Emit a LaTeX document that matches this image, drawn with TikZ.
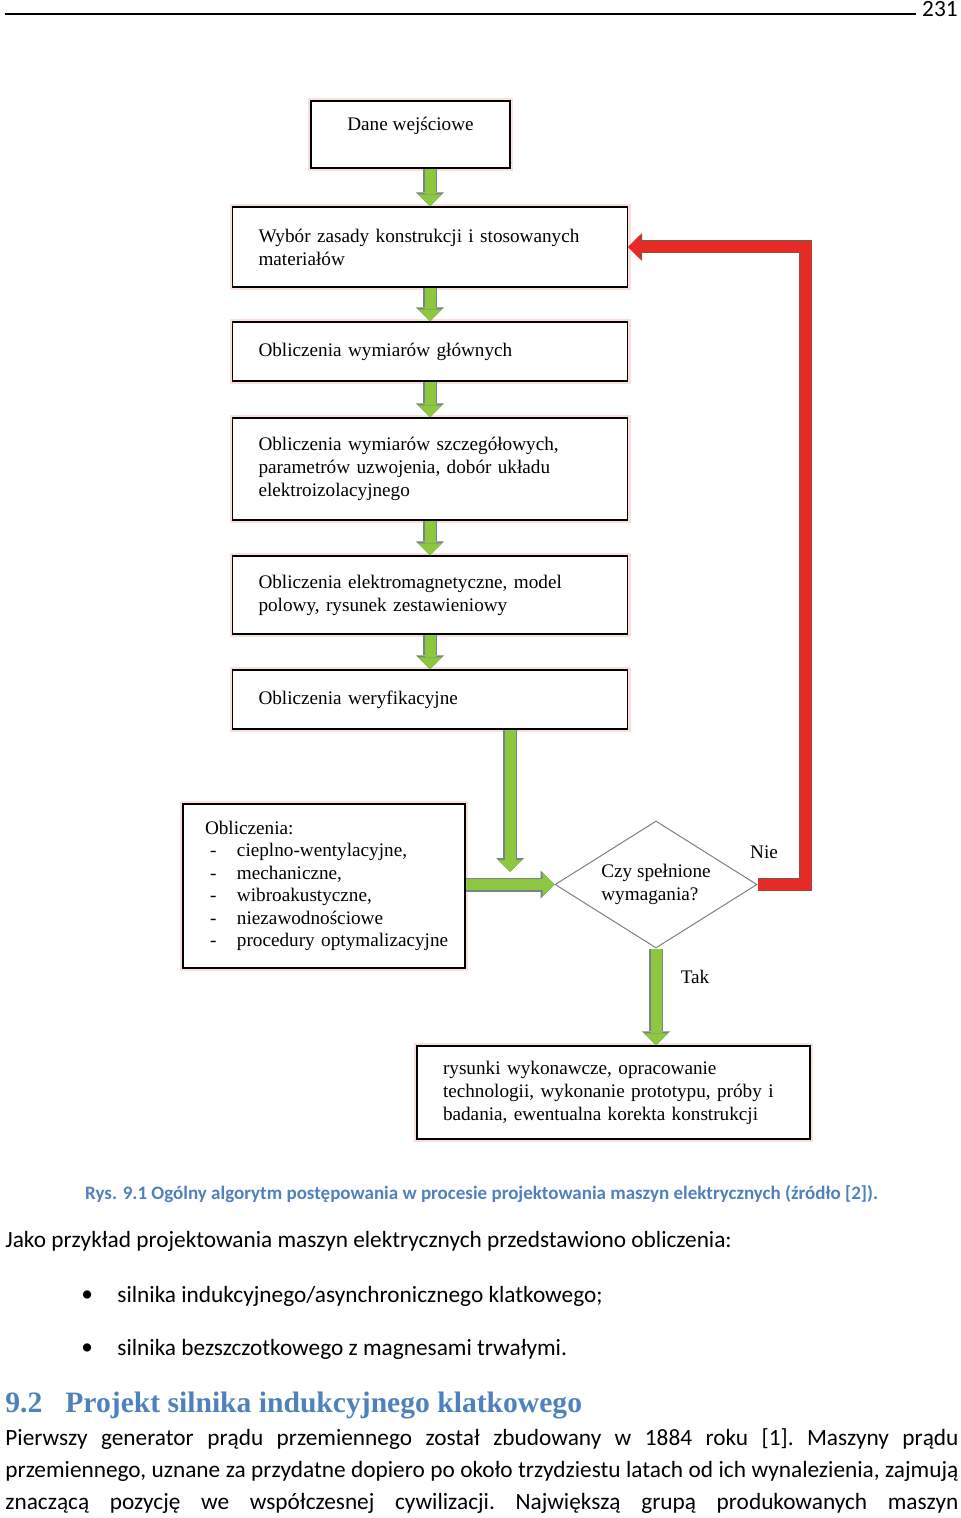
\documentclass[tikz,border=0pt]{standalone}
\usepackage{fontspec}
\setmainfont{Carlito}
\newfontfamily\flowfont{Liberation Serif}
\newfontfamily\headfont{Liberation Serif}
\usetikzlibrary{arrows.meta,shapes.geometric}

\definecolor{capblue}{RGB}{79,129,189}
\definecolor{arrgreen}{RGB}{141,198,63}
\definecolor{arrgrey}{RGB}{120,130,135}
\definecolor{arrred}{RGB}{232,42,36}
\definecolor{rededge}{RGB}{165,70,60}
\definecolor{boxglow}{RGB}{250,224,218}

\tikzset{
	flowbox/.style={draw=black, line width=0.7pt, fill=white, inner xsep=13pt, inner ysep=0pt,
		align=left, font=\flowfont\fontsize{9.6}{11.5}\selectfont,
		preaction={draw=boxglow, line width=3pt}},
	greenarrow/.style={draw=arrgreen, line width=5.5pt, -{Triangle[length=6pt,width=12pt,line width=0pt]},
		preaction={draw=arrgrey, line width=7pt, -{Triangle[length=7pt,width=14pt,line width=0pt]}}},
	redarrow/.style={draw=arrred, line width=5pt, line join=miter, -{Triangle[length=6pt,width=12pt,line width=0pt]},
		preaction={draw=rededge, line width=6.5pt, line join=miter, -{Triangle[length=7pt,width=14pt,line width=0pt]}}},
	bodytext/.style={anchor=west, inner sep=0pt, font=\fontsize{11.65}{14}\selectfont\frenchspacing}
}

\begin{document}
\begin{tikzpicture}[x=0.5pt, y=-0.5pt]
	
	\useasboundingbox (0,0) rectangle (960,1518);
	
	% Page header
	\coordinate (rulea) at (5,14);
	\node[anchor=base east, inner sep=0pt, font=\fontsize{11.65}{14}\selectfont] (strona) at (958,17) {231};
	\draw[line width=0.6pt] (rulea) -- ([xshift=-3pt]strona.west |- rulea);
	
	% Flowchart boxes
	\node[flowbox, align=center, inner xsep=0pt, minimum width=99.5pt, minimum height=33.5pt, text depth=11pt] (dane) at (410.5,134.5) {Dane wejściowe};
	\node[flowbox, text width=171.5pt, minimum height=40pt] (wybor) at (430,247) {Wybór zasady konstrukcji i stosowanych\\materiałów};
	\node[flowbox, text width=171.5pt, minimum height=29.5pt] (glowne) at (430,351.5) {Obliczenia wymiarów głównych};
	\node[flowbox, text width=171.5pt, minimum height=51pt] (szczeg) at (430,469) {Obliczenia wymiarów szczegółowych,\\parametrów uzwojenia, dobór układu\\elektroizolacyjnego};
	\node[flowbox, text width=171.5pt, minimum height=39pt] (elmag) at (430,595) {Obliczenia elektromagnetyczne, model\\polowy, rysunek zestawieniowy};
	\node[flowbox, text width=171.5pt, minimum height=29.5pt] (weryf) at (430,699.5) {Obliczenia weryfikacyjne};
	
	% Side box with the extra calculations
	\node[flowbox, inner xsep=11pt, text width=119pt, minimum height=82pt, font=\flowfont\fontsize{9.6}{11.2}\selectfont] (oblicz) at (324,886)
	{Obliczenia:\\
		\hspace*{2.5pt}\makebox[13.5pt][l]{-}cieplno-wentylacyjne,\\
		\hspace*{2.5pt}\makebox[13.5pt][l]{-}mechaniczne,\\
		\hspace*{2.5pt}\makebox[13.5pt][l]{-}wibroakustyczne,\\
		\hspace*{2.5pt}\makebox[13.5pt][l]{-}niezawodnościowe\\
		\hspace*{2.5pt}\makebox[13.5pt][l]{-}\mbox{procedury optymalizacyjne}};
	
	% Decision
	\node[diamond, draw=arrgrey, line width=0.5pt, fill=white, inner sep=0pt, aspect=1.6,
		minimum width=101pt, minimum height=63.5pt, align=left,
		font=\flowfont\fontsize{9.6}{11.5}\selectfont] (pytanie) at (656,884.5) {Czy spełnione\\wymagania?};
	
	% Final box
	\node[flowbox, text width=170.5pt, minimum height=46.5pt] (rysunki) at (613.5,1092.5) {rysunki wykonawcze, opracowanie\\\mbox{technologii, wykonanie prototypu, próby i}\\badania, ewentualna korekta konstrukcji};
	
	% Green arrows of the main chain
	\draw[greenarrow] (dane.south -| wybor.north) -- (wybor.north);
	\foreach \a/\b in {wybor/glowne, glowne/szczeg, szczeg/elmag, elmag/weryf}
	{
		\draw[greenarrow] (\a.south) -- (\b.north);
	}
	
	% Arrows into the decision
	\coordinate (zbieg) at (510,872);
	\draw[greenarrow] (weryf.south -| zbieg) -- (zbieg);
	\draw[greenarrow] (oblicz.east |- pytanie.west) -- (pytanie.west);
	\draw[greenarrow] (pytanie.south) -- (rysunki.north -| pytanie.south);
	
	% Back loop
	\draw[redarrow] (pytanie.east) -- ++(48,0) |- (wybor.east);
	
	% Answers
	\node[font=\flowfont\fontsize{9.6}{11.5}\selectfont, inner sep=0pt] (nie) at (764,852) {Nie};
	\node[font=\flowfont\fontsize{9.6}{11.5}\selectfont, inner sep=0pt] (tak) at (695,977) {Tak};
	
	% Caption
	\node[inner sep=0pt, text=capblue, font=\bfseries\fontsize{9.5}{11}\selectfont] (podpis) at (481.5,1194)
	{Rys. 9.1 Ogólny algorytm postępowania w procesie projektowania maszyn elektrycznych (źródło [2]).};
	
	% Text below
	\node[bodytext] (wstep) at (5,1241) {Jako przykład projektowania maszyn elektrycznych przedstawiono obliczenia:};
	\node[bodytext] (kropka1) at (81,1296) {•};
	\node[bodytext] (punkt1) at (117,1296) {silnika indukcyjnego/asynchronicznego klatkowego;};
	\node[bodytext] (kropka2) at (81,1349) {•};
	\node[bodytext] (punkt2) at (117,1349) {silnika bezszczotkowego z magnesami trwałymi.};
	
	% Section heading
	\node[anchor=west, inner sep=0pt, text=capblue, font=\headfont\bfseries\fontsize{14.8}{17}\selectfont] (rozdzial) at (5,1405)
	{\makebox[30pt][l]{9.2}Projekt silnika indukcyjnego klatkowego};
	
	% Paragraph lines
	\node[bodytext] (linia1) at (5,1439) {\makebox[476.5pt][s]{Pierwszy generator prądu przemiennego został zbudowany w 1884 roku [1]. Maszyny prądu}};
	\node[bodytext] (linia2) at (5,1471) {\makebox[476.5pt][s]{przemiennego, uznane za przydatne dopiero po około trzydziestu latach od ich wynalezienia, zajmują}};
	\node[bodytext] (linia3) at (5,1503) {\makebox[476.5pt][s]{znaczącą pozycję we współczesnej cywilizacji. Największą grupą produkowanych maszyn}};
	
\end{tikzpicture}
\end{document}
